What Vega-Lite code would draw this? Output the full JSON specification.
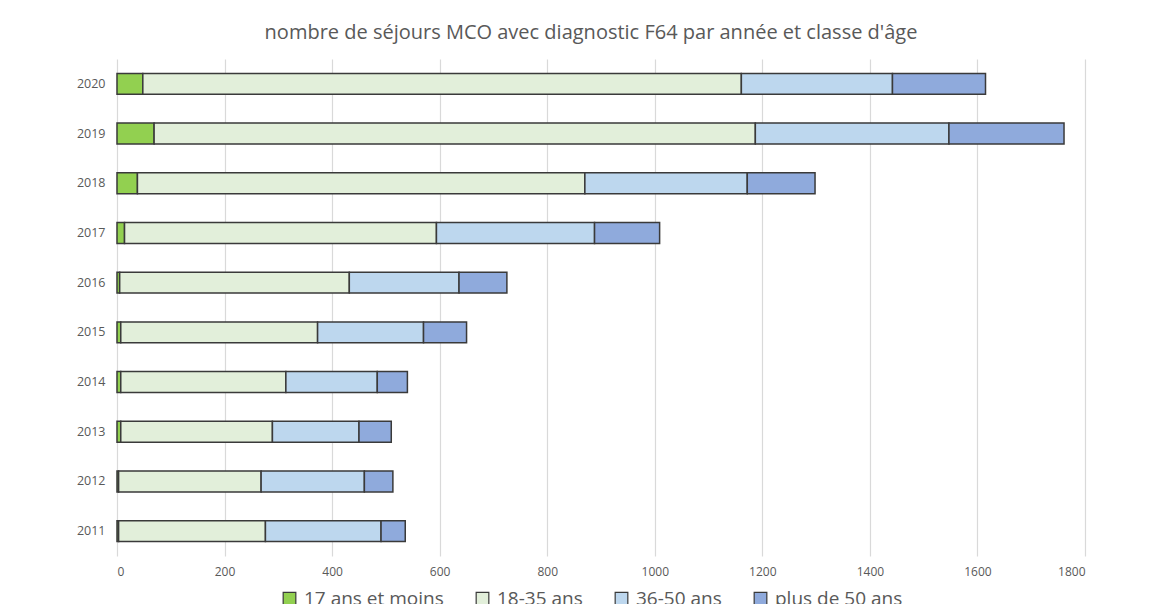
{
  "$schema": "https://vega.github.io/schema/vega-lite/v6.json",
  "autosize": "none",
  "width": 968,
  "height": 497,
  "padding": {"left": 117, "top": 59, "right": 89, "bottom": 48},
  "background": "white",
  "title": {
    "text": "nombre de séjours MCO avec diagnostic F64 par année et classe d'âge",
    "font": "Open Sans",
    "fontSize": 20,
    "fontWeight": "normal",
    "color": "#595959",
    "anchor": "middle",
    "dx": -10,
    "offset": 16
  },
  "config": {
    "view": {"stroke": null},
    "font": "Open Sans"
  },
  "data": {
    "values": [
      {"annee": "2020", "classe": "17 ans et moins", "ordre": 1, "sejours": 48},
      {"annee": "2020", "classe": "18-35 ans", "ordre": 2, "sejours": 1113},
      {"annee": "2020", "classe": "36-50 ans", "ordre": 3, "sejours": 281},
      {"annee": "2020", "classe": "plus de 50 ans", "ordre": 4, "sejours": 173},
      {"annee": "2019", "classe": "17 ans et moins", "ordre": 1, "sejours": 69},
      {"annee": "2019", "classe": "18-35 ans", "ordre": 2, "sejours": 1118},
      {"annee": "2019", "classe": "36-50 ans", "ordre": 3, "sejours": 360},
      {"annee": "2019", "classe": "plus de 50 ans", "ordre": 4, "sejours": 214},
      {"annee": "2018", "classe": "17 ans et moins", "ordre": 1, "sejours": 38},
      {"annee": "2018", "classe": "18-35 ans", "ordre": 2, "sejours": 832},
      {"annee": "2018", "classe": "36-50 ans", "ordre": 3, "sejours": 302},
      {"annee": "2018", "classe": "plus de 50 ans", "ordre": 4, "sejours": 126},
      {"annee": "2017", "classe": "17 ans et moins", "ordre": 1, "sejours": 14},
      {"annee": "2017", "classe": "18-35 ans", "ordre": 2, "sejours": 580},
      {"annee": "2017", "classe": "36-50 ans", "ordre": 3, "sejours": 294},
      {"annee": "2017", "classe": "plus de 50 ans", "ordre": 4, "sejours": 121},
      {"annee": "2016", "classe": "17 ans et moins", "ordre": 1, "sejours": 5},
      {"annee": "2016", "classe": "18-35 ans", "ordre": 2, "sejours": 427},
      {"annee": "2016", "classe": "36-50 ans", "ordre": 3, "sejours": 204},
      {"annee": "2016", "classe": "plus de 50 ans", "ordre": 4, "sejours": 89},
      {"annee": "2015", "classe": "17 ans et moins", "ordre": 1, "sejours": 7},
      {"annee": "2015", "classe": "18-35 ans", "ordre": 2, "sejours": 366},
      {"annee": "2015", "classe": "36-50 ans", "ordre": 3, "sejours": 197},
      {"annee": "2015", "classe": "plus de 50 ans", "ordre": 4, "sejours": 80},
      {"annee": "2014", "classe": "17 ans et moins", "ordre": 1, "sejours": 7},
      {"annee": "2014", "classe": "18-35 ans", "ordre": 2, "sejours": 307},
      {"annee": "2014", "classe": "36-50 ans", "ordre": 3, "sejours": 170},
      {"annee": "2014", "classe": "plus de 50 ans", "ordre": 4, "sejours": 56},
      {"annee": "2013", "classe": "17 ans et moins", "ordre": 1, "sejours": 7},
      {"annee": "2013", "classe": "18-35 ans", "ordre": 2, "sejours": 282},
      {"annee": "2013", "classe": "36-50 ans", "ordre": 3, "sejours": 161},
      {"annee": "2013", "classe": "plus de 50 ans", "ordre": 4, "sejours": 60},
      {"annee": "2012", "classe": "17 ans et moins", "ordre": 1, "sejours": 3},
      {"annee": "2012", "classe": "18-35 ans", "ordre": 2, "sejours": 265},
      {"annee": "2012", "classe": "36-50 ans", "ordre": 3, "sejours": 192},
      {"annee": "2012", "classe": "plus de 50 ans", "ordre": 4, "sejours": 53},
      {"annee": "2011", "classe": "17 ans et moins", "ordre": 1, "sejours": 3},
      {"annee": "2011", "classe": "18-35 ans", "ordre": 2, "sejours": 273},
      {"annee": "2011", "classe": "36-50 ans", "ordre": 3, "sejours": 215},
      {"annee": "2011", "classe": "plus de 50 ans", "ordre": 4, "sejours": 45}
    ]
  },
  "mark": {"type": "bar", "stroke": "#3a3a3a", "strokeWidth": 1.5},
  "encoding": {
    "y": {
      "field": "annee",
      "type": "nominal",
      "sort": "descending",
      "scale": {"paddingInner": 0.58, "paddingOuter": 0.29},
      "axis": {
        "title": null,
        "domain": false,
        "ticks": false,
        "labelFont": "Open Sans",
        "labelFontSize": 12.5,
        "labelColor": "#595959",
        "labelPadding": 12
      }
    },
    "x": {
      "field": "sejours",
      "type": "quantitative",
      "stack": "zero",
      "scale": {"domain": [0, 1800], "nice": false},
      "axis": {
        "title": null,
        "values": [0, 200, 400, 600, 800, 1000, 1200, 1400, 1600, 1800],
        "format": "d",
        "grid": true,
        "gridColor": "#d9d9d9",
        "gridWidth": 1.2,
        "domain": false,
        "ticks": false,
        "labelFont": "Open Sans",
        "labelFontSize": 12,
        "labelColor": "#595959",
        "labelPadding": 10
      }
    },
    "color": {
      "field": "classe",
      "type": "nominal",
      "scale": {
        "domain": ["17 ans et moins", "18-35 ans", "36-50 ans", "plus de 50 ans"],
        "range": ["#92d050", "#e2efda", "#bdd7ee", "#8faadc"]
      },
      "legend": {
        "title": null,
        "orient": "none",
        "direction": "horizontal",
        "legendX": 163,
        "legendY": 530,
        "symbolType": "square",
        "symbolSize": 160,
        "symbolStrokeColor": "#3a3a3a",
        "symbolStrokeWidth": 1.2,
        "labelFont": "Open Sans",
        "labelFontSize": 19,
        "labelColor": "#595959",
        "labelOffset": 5,
        "columnPadding": 29
      }
    },
    "order": {"field": "ordre", "type": "quantitative"}
  }
}
